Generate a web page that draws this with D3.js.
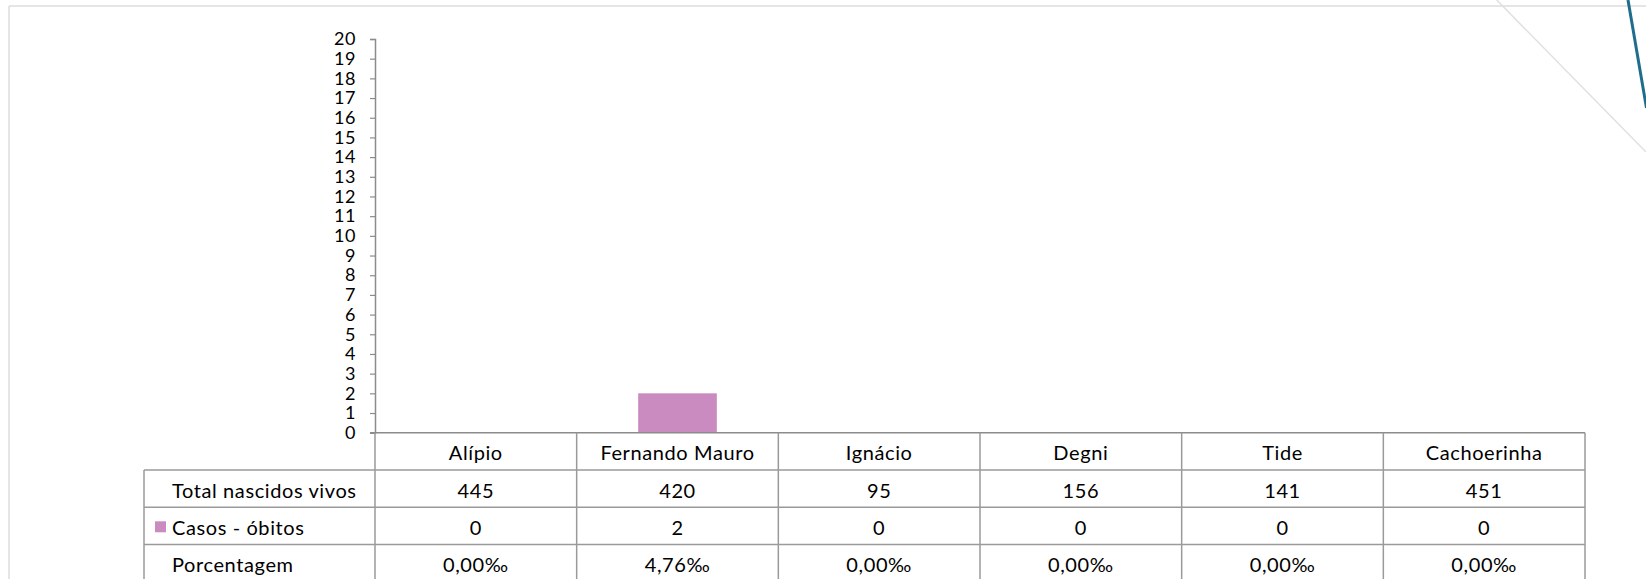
<!DOCTYPE html>
<html>
<head>
<meta charset="utf-8">
<script src="https://cdn.jsdelivr.net/npm/d3@7/dist/d3.min.js"></script>
<style>
  html, body { margin: 0; padding: 0; background: #ffffff; }
  svg { display: block; }
  text { font-family: Lato, "Open Sans", sans-serif; fill: #000; }
</style>
</head>
<body>
<svg id="chart" width="1646" height="579"></svg>
<script>
// Bairros e indicadores
const categories = ["Alípio", "Fernando Mauro", "Ignácio", "Degni", "Tide", "Cachoerinha"];
const nascidosVivos = [445, 420, 95, 156, 141, 451];
const obitos = [0, 2, 0, 0, 0, 0];
const porcentagem = ["0,00‰", "4,76‰", "0,00‰", "0,00‰", "0,00‰", "0,00‰"];
const rowLabels = ["Total nascidos vivos", "Casos - óbitos", "Porcentagem"];
const yTicks = d3.range(0, 21);

const svg = d3.select("#chart");
const W = 1646, H = 579;

// Plot frame
const plot = { left: 375, right: 1585, top: 39, bottom: 432.7 };
const tableLeft = 144;
const rowH = 37.3;
const gridColor = "#9a9a9a";
const axisColor = "#8c8c8c";
const barColor = "#c98bc0";

// Decorative slide frame and accents
svg.append("line").attr("x1", 9).attr("y1", 6).attr("x2", W).attr("y2", 6)
  .attr("stroke", "#dcdcdc").attr("stroke-width", 1.5);
svg.append("line").attr("x1", 9).attr("y1", 6).attr("x2", 9).attr("y2", H)
  .attr("stroke", "#dcdcdc").attr("stroke-width", 1.5);
svg.append("line").attr("x1", 1496.7).attr("y1", 0).attr("x2", 1646).attr("y2", 152)
  .attr("stroke", "#e0e0e0").attr("stroke-width", 1.5);
svg.append("line").attr("x1", 1628).attr("y1", 0).attr("x2", 1646.5).attr("y2", 108)
  .attr("stroke", "#1f6d8c").attr("stroke-width", 3);

// Scales
const x = d3.scaleBand().domain(categories).range([plot.left, plot.right]).paddingInner(0).paddingOuter(0);
const y = d3.scaleLinear().domain([0, 20]).range([plot.bottom, plot.top]);

// Y axis
const yAxis = d3.axisLeft(y).tickValues(yTicks).tickSize(5).tickPadding(14).tickFormat(d3.format("d"));
const gy = svg.append("g").attr("transform", `translate(${plot.left},0)`).call(yAxis);
gy.select(".domain").attr("stroke", axisColor).attr("stroke-width", 1.5);
gy.selectAll(".tick line").attr("stroke", axisColor).attr("stroke-width", 1.2);
gy.selectAll(".tick text").attr("font-size", 18).attr("letter-spacing", 0.6)
  .attr("font-family", "Lato, sans-serif").attr("fill", "#000");

// Bars
const barW = x.bandwidth() * 0.39;
svg.append("g").selectAll("rect").data(categories).join("rect")
  .attr("x", d => x(d) + (x.bandwidth() - barW) / 2)
  .attr("width", barW)
  .attr("y", (d, i) => y(obitos[i]))
  .attr("height", (d, i) => y(0) - y(obitos[i]))
  .attr("fill", barColor);

// Data table
const rowTop = i => plot.bottom + rowH * i; // 0 = category row
const tableBottom = rowTop(4);
const g = svg.append("g");

// horizontal rules
g.append("line").attr("x1", plot.left - 5).attr("x2", plot.right)
  .attr("y1", plot.bottom).attr("y2", plot.bottom)
  .attr("stroke", axisColor).attr("stroke-width", 1.5);
for (let r = 1; r <= 4; r++) {
  g.append("line").attr("x1", tableLeft).attr("x2", plot.right)
    .attr("y1", rowTop(r)).attr("y2", rowTop(r))
    .attr("stroke", gridColor).attr("stroke-width", 1.5);
}
// vertical rules
const colEdges = categories.map(c => x(c)).concat([x(categories[categories.length - 1]) + x.bandwidth()]);
colEdges.forEach(cx => {
  g.append("line").attr("x1", cx).attr("x2", cx)
    .attr("y1", plot.bottom).attr("y2", tableBottom)
    .attr("stroke", gridColor).attr("stroke-width", 1.5);
});
g.append("line").attr("x1", tableLeft).attr("x2", tableLeft)
  .attr("y1", rowTop(1)).attr("y2", tableBottom)
  .attr("stroke", gridColor).attr("stroke-width", 1.5);

const fs = 20;
const ls = 0.6;
const baseOff = rowH - 9.5;

// category header row
g.selectAll("text.cat").data(categories).join("text").attr("class", "cat")
  .attr("x", d => x(d) + x.bandwidth() / 2)
  .attr("y", rowTop(0) + baseOff - 0.5)
  .attr("text-anchor", "middle").attr("font-size", fs).attr("letter-spacing", ls).text(d => d);

// row labels
rowLabels.forEach((lbl, r) => {
  g.append("text").attr("x", 172).attr("y", rowTop(r + 1) + baseOff)
    .attr("font-size", fs).attr("letter-spacing", ls).text(lbl);
});
// legend key for the bar series
g.append("rect").attr("x", 155).attr("y", rowTop(2) + 14).attr("width", 11).attr("height", 11)
  .attr("fill", barColor);

// values
const rows = [nascidosVivos.map(String), obitos.map(String), porcentagem];
rows.forEach((vals, r) => {
  g.selectAll(`text.v${r}`).data(vals).join("text").attr("class", `v${r}`)
    .attr("x", (d, i) => x(categories[i]) + x.bandwidth() / 2)
    .attr("y", rowTop(r + 1) + baseOff)
    .attr("text-anchor", "middle").attr("font-size", fs).attr("letter-spacing", ls).text(d => d);
});
</script>
</body>
</html>
